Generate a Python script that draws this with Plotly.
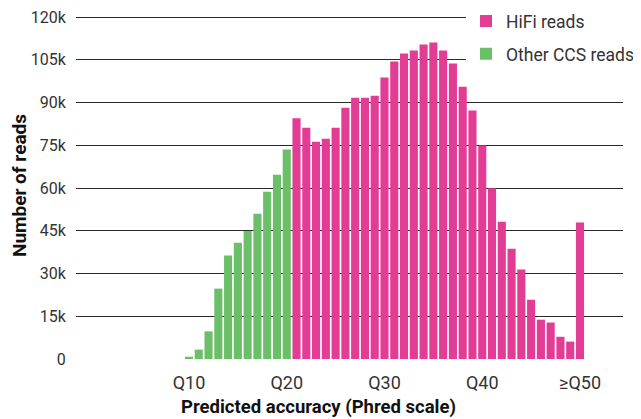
import plotly.graph_objects as go

# Data
other_q = [10, 11, 12, 13, 14, 15, 16, 17, 18, 19, 20]
other_reads = [800, 3300, 9700, 24700, 36300, 40800, 44900, 51000, 58700, 64700, 73500]

hifi_q = [21, 22, 23, 24, 25, 26, 27, 28, 29, 30,
          31, 32, 33, 34, 35, 36, 37, 38, 39, 40,
          41, 42, 43, 44, 45, 46, 47, 48, 49, 50]
hifi_reads = [84500, 81200, 76300, 77300, 81200, 88200, 91700, 91700, 92400, 98800,
              104400, 107200, 108300, 110400, 111100, 108300, 103700, 95600, 87200, 74900,
              59900, 48200, 38700, 31400, 20800, 13800, 12800, 7800, 6100, 47900]

x_tickvals = [10, 20, 30, 40, 50]
x_ticktext = ["Q10", "Q20", "Q30", "Q40", "≥Q50"]
y_tickvals = [0, 15000, 30000, 45000, 60000, 75000, 90000, 105000, 120000]
y_ticktext = ["0", "15k", "30k", "45k", "60k", "75k", "90k", "105k", "120k"]

PINK = "#E23C95"
GREEN = "#6BBF69"

# page has an 8px body margin; work in figure coordinates = page - 8
OFF = 8
W, H = 641 - OFF, 419 - OFF
Y0_PAGE, Y120_PAGE = 359, 17
YTOP = 121800
scale = (Y0_PAGE - Y120_PAGE) / 120000.0
ph = YTOP * scale
ML = 76 - OFF
MR = W - (623 - OFF)
MB = H - (Y0_PAGE - OFF)
MT = H - MB - ph
pw = W - ML - MR

fig = go.Figure()
fig.add_trace(go.Bar(x=hifi_q, y=hifi_reads, name="HiFi reads",
                     marker=dict(color=PINK, line=dict(width=0)), legendgroup="a"))
fig.add_trace(go.Bar(x=other_q, y=other_reads, name="Other CCS reads",
                     marker=dict(color=GREEN, line=dict(width=0)), legendgroup="b"))

fig.add_annotation(text="<b>Predicted accuracy (Phred scale)</b>",
                   xref="paper", yref="paper",
                   x=(318 - OFF - ML) / pw, y=-(407 - Y0_PAGE) / ph,
                   xanchor="center", yanchor="middle", showarrow=False,
                   font=dict(size=18.5, color="#111111"))

legend_top_page = 3
fig.update_layout(
    width=W, height=H,
    margin=dict(l=ML, r=MR, t=MT, b=MB, autoexpand=False),
    paper_bgcolor="white", plot_bgcolor="white",
    font=dict(family="Roboto", size=16, color="#333333"),
    bargap=0.17,
    barmode="overlay",
    showlegend=True,
    legend=dict(x=(466 - OFF - ML) / pw,
                y=(Y0_PAGE - legend_top_page) / ph,
                xanchor="left", yanchor="top",
                bgcolor="white", font=dict(size=17.5, color="#333333"),
                tracegroupgap=7, traceorder="grouped"),
    xaxis=dict(range=[-1.56, 54.4], tickvals=x_tickvals, ticktext=x_ticktext,
               showgrid=False, zeroline=False, showline=False, automargin=False,
               ticks="outside", ticklen=7, tickcolor="rgba(0,0,0,0)",
               tickfont=dict(size=18, color="#333333")),
    yaxis=dict(range=[0, YTOP], tickvals=y_tickvals, ticktext=y_ticktext,
               showgrid=True, gridcolor="#2a2a2a", gridwidth=1,
               zeroline=False, showline=False, automargin=False,
               ticklabeloverflow="allow",
               ticks="outside", ticklen=6, tickcolor="rgba(0,0,0,0)",
               tickfont=dict(size=16, color="#333333"),
               title=dict(text="<b>Number of reads</b>",
                          font=dict(size=19, color="#111111"), standoff=13)),
)

fig.write_html("out.html")
